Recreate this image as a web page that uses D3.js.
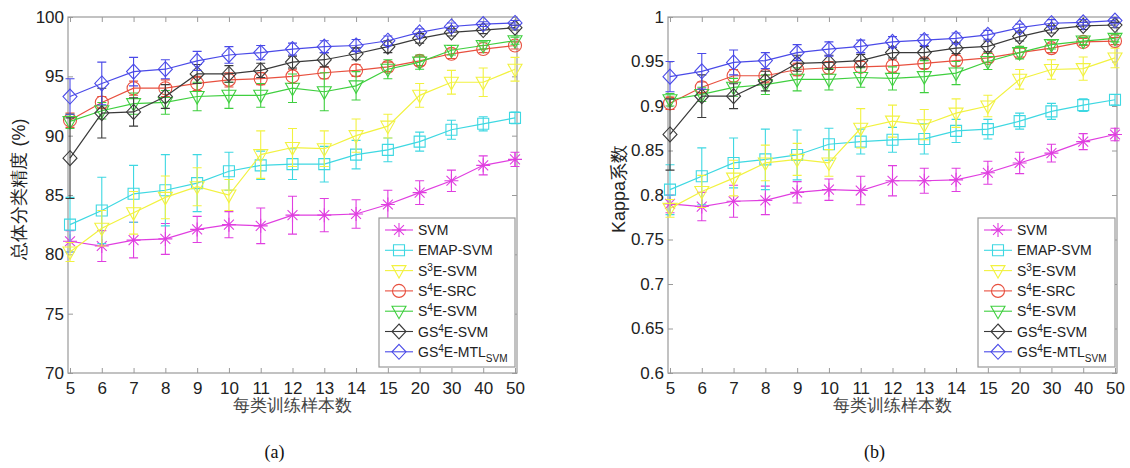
<!DOCTYPE html>
<html>
<head>
<meta charset="utf-8">
<script src="https://cdn.jsdelivr.net/npm/d3@7"></script>
<style>
  body { margin: 0; background: #fff; }
  svg text { font-family: "Liberation Sans", Arial, sans-serif; }
</style>
</head>
<body>
<div id="chart"></div>
<script>
// samples per class (categorical x axis)
const samples = ['5','6','7','8','9','10','11','12','13','14','15','20','30','40','50'];

const methods = ['SVM', 'EMAP-SVM', 'S3E-SVM', 'S4E-SRC', 'S4E-SVM', 'GS4E-SVM', 'GS4E-MTL'];

// (a) overall accuracy, %
const oaSVM   = [81.1, 80.7, 81.2, 81.3, 82.1, 82.5, 82.4, 83.3, 83.3, 83.4, 84.2, 85.2, 86.2, 87.5, 88.0];
const oaEMAP  = [82.5, 83.7, 85.1, 85.4, 86.0, 87.0, 87.5, 87.6, 87.6, 88.4, 88.8, 89.5, 90.5, 91.0, 91.5];
const oaS3E   = [80.2, 82.2, 83.5, 84.8, 85.7, 85.0, 88.4, 89.0, 88.9, 90.0, 90.8, 93.4, 94.5, 94.5, 95.6];
const oaS4SRC = [91.3, 92.8, 94.0, 94.0, 94.4, 94.7, 94.8, 95.0, 95.3, 95.5, 95.8, 96.3, 96.9, 97.3, 97.6];
const oaS4SVM = [91.2, 92.1, 92.7, 92.8, 93.3, 93.4, 93.4, 94.0, 93.7, 94.2, 95.6, 96.2, 97.2, 97.6, 98.0];
const oaGS4   = [88.1, 91.9, 92.0, 93.3, 95.2, 95.2, 95.5, 96.2, 96.4, 96.9, 97.5, 98.2, 98.7, 98.9, 99.1];
const oaMTL   = [93.3, 94.4, 95.4, 95.6, 96.3, 96.8, 97.0, 97.3, 97.5, 97.6, 98.0, 98.7, 99.2, 99.4, 99.5];

const oaSVMErr   = [0.9, 1.3, 1.5, 1.3, 1.1, 1.1, 1.5, 1.6, 1.4, 1.2, 1.2, 1.0, 0.9, 0.8, 0.6];
const oaEMAPErr  = [2.3, 2.8, 2.4, 3.0, 2.4, 1.6, 1.2, 1.3, 1.5, 1.2, 1.0, 0.8, 0.8, 0.6, 0.5];
const oaS3EErr   = [0.8, 1.5, 1.8, 1.8, 1.6, 1.3, 2.0, 1.6, 1.5, 1.4, 1.0, 1.0, 1.0, 1.2, 1.0];
const oaS4SRCErr = [0.6, 0.5, 0.6, 0.7, 0.6, 0.6, 0.5, 0.6, 0.5, 0.5, 0.4, 0.4, 0.4, 0.3, 0.3];
const oaS4SVMErr = [0.6, 0.7, 0.9, 1.0, 1.2, 1.1, 1.0, 1.2, 1.6, 1.2, 0.8, 0.6, 0.4, 0.3, 0.3];
const oaGS4Err   = [3.4, 2.1, 1.2, 1.0, 0.8, 0.7, 0.6, 0.5, 0.6, 0.5, 0.5, 0.4, 0.3, 0.3, 0.2];
const oaMTLErr   = [1.5, 1.8, 1.2, 0.8, 0.8, 0.7, 0.6, 0.5, 0.5, 0.5, 0.4, 0.3, 0.3, 0.2, 0.2];

// (b) kappa coefficient
const kSVM   = [0.790, 0.787, 0.793, 0.794, 0.803, 0.806, 0.805, 0.816, 0.816, 0.817, 0.825, 0.836, 0.847, 0.860, 0.868];
const kEMAP  = [0.806, 0.821, 0.836, 0.840, 0.845, 0.857, 0.860, 0.862, 0.863, 0.872, 0.874, 0.883, 0.894, 0.901, 0.907];
const kS3E   = [0.785, 0.804, 0.819, 0.836, 0.840, 0.836, 0.875, 0.883, 0.879, 0.892, 0.900, 0.930, 0.941, 0.942, 0.954];
const kS4SRC = [0.903, 0.921, 0.934, 0.934, 0.941, 0.943, 0.944, 0.945, 0.948, 0.951, 0.954, 0.960, 0.965, 0.972, 0.973];
const kS4SVM = [0.907, 0.913, 0.921, 0.924, 0.930, 0.930, 0.932, 0.931, 0.933, 0.937, 0.950, 0.960, 0.969, 0.973, 0.976];
const kGS4   = [0.868, 0.911, 0.911, 0.928, 0.948, 0.949, 0.951, 0.960, 0.960, 0.965, 0.967, 0.978, 0.986, 0.990, 0.991];
const kMTL   = [0.933, 0.939, 0.949, 0.951, 0.960, 0.964, 0.967, 0.972, 0.974, 0.976, 0.980, 0.988, 0.993, 0.994, 0.996];

const kSVMErr   = [0.010, 0.016, 0.018, 0.016, 0.012, 0.012, 0.016, 0.017, 0.014, 0.013, 0.013, 0.012, 0.010, 0.009, 0.007];
const kEMAPErr  = [0.028, 0.032, 0.028, 0.034, 0.028, 0.018, 0.014, 0.014, 0.017, 0.013, 0.011, 0.009, 0.009, 0.007, 0.006];
const kS3EErr   = [0.010, 0.018, 0.020, 0.020, 0.018, 0.015, 0.022, 0.018, 0.017, 0.016, 0.012, 0.011, 0.011, 0.013, 0.011];
const kS4SRCErr = [0.007, 0.006, 0.007, 0.008, 0.007, 0.007, 0.006, 0.007, 0.006, 0.006, 0.005, 0.005, 0.005, 0.004, 0.004];
const kS4SVMErr = [0.007, 0.008, 0.010, 0.011, 0.013, 0.012, 0.011, 0.013, 0.018, 0.013, 0.009, 0.007, 0.005, 0.004, 0.004];
const kGS4Err   = [0.040, 0.024, 0.014, 0.011, 0.009, 0.008, 0.007, 0.006, 0.007, 0.006, 0.006, 0.005, 0.004, 0.004, 0.003];
const kMTLErr   = [0.017, 0.020, 0.014, 0.009, 0.009, 0.008, 0.007, 0.006, 0.006, 0.006, 0.005, 0.004, 0.004, 0.003, 0.003];

const yTicksA = [70, 75, 80, 85, 90, 95, 100];
const yTicksB = [0.6, 0.65, 0.7, 0.75, 0.8, 0.85, 0.9, 0.95, 1];

// styling per method
const colors  = ['#e03ee0', '#3ed8e2', '#f2f240', '#e8503f', '#3fcf3f', '#3a3a3a', '#4a4ae8'];
const markers = ['star', 'square', 'tri', 'circle', 'tri', 'diamond', 'diamond'];

const width = 1130, height = 468;
const svg = d3.select('#chart').append('svg')
  .attr('width', width)
  .attr('height', height);

function markerPath(type) {
  const p = d3.path();
  if (type === 'diamond') {
    p.moveTo(0, -7.5); p.lineTo(7, 0); p.lineTo(0, 7.5); p.lineTo(-7, 0); p.closePath();
  } else if (type === 'square') {
    p.rect(-5.5, -5.5, 11, 11);
  } else if (type === 'tri') {
    p.moveTo(-7, -5); p.lineTo(7, -5); p.lineTo(0, 7.5); p.closePath();
  } else if (type === 'circle') {
    p.arc(0, 0, 6.5, 0, Math.PI * 2);
  } else if (type === 'star') {
    const r = 7;
    for (let k = 0; k < 4; k++) {
      const a = k * Math.PI / 4;
      p.moveTo(-r * Math.cos(a), -r * Math.sin(a));
      p.lineTo(r * Math.cos(a), r * Math.sin(a));
    }
  }
  return p.toString();
}

function legendLabel(text, i) {
  // write superscripts/subscripts with tspans
  const parts = {
    0: [['SVM']],
    1: [['EMAP-SVM']],
    2: [['S'], ['3', 'sup'], ['E-SVM']],
    3: [['S'], ['4', 'sup'], ['E-SRC']],
    4: [['S'], ['4', 'sup'], ['E-SVM']],
    5: [['GS'], ['4', 'sup'], ['E-SVM']],
    6: [['GS'], ['4', 'sup'], ['E-MTL'], ['SVM', 'sub']]
  }[i];
  parts.forEach(([t, k], j) => {
    const ts = text.append('tspan').text(t);
    if (k === 'sup') ts.attr('dy', -5).attr('font-size', 10);
    else if (k === 'sub') ts.attr('dy', 5).attr('font-size', 10);
    else if (j > 0) ts.attr('dy', 5).attr('font-size', 14);
  });
}

function drawPanel(cfg) {
  const { left, right, top, bottom, domain, ticks, fmt, values, errors, ylabel, tag, legendX } = cfg;

  const x = d3.scalePoint().domain(samples).range([left + 2, right - 2]);
  const y = d3.scaleLinear().domain(domain).range([bottom, top]);

  const g = svg.append('g');

  // frame
  g.append('rect')
    .attr('x', left).attr('y', top)
    .attr('width', right - left).attr('height', bottom - top)
    .attr('fill', 'none').attr('stroke', '#9a9a9a').attr('stroke-width', 1.2);

  // axes, ticks inside
  const xAxis = g.append('g').attr('transform', `translate(0,${bottom})`)
    .call(d3.axisBottom(x).tickSizeInner(-5).tickSizeOuter(0).tickPadding(9));
  const xTop = g.append('g').attr('transform', `translate(0,${top})`)
    .call(d3.axisTop(x).tickSizeInner(-5).tickSizeOuter(0).tickFormat(''));
  const yAxis = g.append('g').attr('transform', `translate(${left},0)`)
    .call(d3.axisLeft(y).tickValues(ticks).tickFormat(fmt).tickSizeInner(-5).tickSizeOuter(0).tickPadding(4));
  const yRight = g.append('g').attr('transform', `translate(${right},0)`)
    .call(d3.axisRight(y).tickValues(ticks).tickSizeInner(-5).tickSizeOuter(0).tickFormat(''));

  [xAxis, xTop, yAxis, yRight].forEach(a => {
    a.select('.domain').remove();
    a.selectAll('.tick line').attr('stroke', '#9a9a9a');
  });
  xAxis.selectAll('text').attr('font-size', 17).attr('fill', '#222');
  yAxis.selectAll('text').attr('font-size', 17).attr('fill', '#222');

  // series: error bars, line, markers
  values.forEach((vals, i) => {
    const col = colors[i];
    const sg = g.append('g');
    const errs = errors[i];
    const cap = 4.5;

    sg.selectAll('path.err')
      .data(vals.map((v, j) => ({ s: samples[j], v, e: errs[j] })))
      .enter().append('path')
      .attr('class', 'err')
      .attr('d', d => {
        const cx = x(d.s), y1 = y(d.v - d.e), y2 = y(d.v + d.e);
        return `M${cx},${y1}V${y2}M${cx - cap},${y1}H${cx + cap}M${cx - cap},${y2}H${cx + cap}`;
      })
      .attr('fill', 'none').attr('stroke', col).attr('stroke-width', 1.1);

    sg.append('path')
      .datum(vals)
      .attr('d', d3.line().x((d, j) => x(samples[j])).y(d => y(d)))
      .attr('fill', 'none').attr('stroke', col).attr('stroke-width', 1.2);

    sg.selectAll('path.mk')
      .data(vals)
      .enter().append('path')
      .attr('class', 'mk')
      .attr('transform', (d, j) => `translate(${x(samples[j])},${y(d)})`)
      .attr('d', markerPath(markers[i]))
      .attr('fill', 'none').attr('stroke', col).attr('stroke-width', 1.1);
  });

  // legend
  const lg = g.append('g');
  const lx = legendX, ly = 218, lw = right - 2 - legendX, lh = 149;
  lg.append('rect').attr('x', lx).attr('y', ly).attr('width', lw).attr('height', lh)
    .attr('fill', '#fff').attr('stroke', '#9a9a9a').attr('stroke-width', 1.2);
  methods.forEach((m, i) => {
    const yy = ly + 12 + i * 20.3;
    lg.append('line').attr('x1', lx + 6).attr('x2', lx + 34).attr('y1', yy).attr('y2', yy)
      .attr('stroke', colors[i]).attr('stroke-width', 1.1);
    lg.append('path').attr('transform', `translate(${lx + 20},${yy})`)
      .attr('d', markerPath(markers[i]))
      .attr('fill', 'none').attr('stroke', colors[i]).attr('stroke-width', 1.1);
    const t = lg.append('text').attr('x', lx + 39).attr('y', yy + 5)
      .attr('font-size', 14).attr('fill', '#222');
    legendLabel(t, i);
  });

  // axis titles
  g.append('text')
    .attr('x', (left + right) / 2).attr('y', 411)
    .attr('text-anchor', 'middle').attr('font-size', 17).attr('fill', '#444')
    .attr('font-family', '"Noto Sans CJK SC", sans-serif')
    .text('每类训练样本数');
  g.append('text')
    .attr('transform', `translate(${left - 43},${(top + bottom) / 2 - 6}) rotate(-90)`)
    .attr('text-anchor', 'middle').attr('font-size', 18).attr('fill', '#222')
    .attr('font-family', '"Liberation Sans", "Noto Sans CJK SC", sans-serif')
    .text(ylabel);
  g.append('text')
    .attr('x', (left + right) / 2 - 18).attr('y', 458)
    .attr('text-anchor', 'middle').attr('font-size', 18).attr('fill', '#111')
    .style('font-family', '"Liberation Serif", "Times New Roman", serif')
    .text(tag);
}

drawPanel({
  left: 68, right: 517, top: 17, bottom: 373,
  domain: [70, 100], ticks: yTicksA, fmt: d3.format('d'),
  values: [oaSVM, oaEMAP, oaS3E, oaS4SRC, oaS4SVM, oaGS4, oaMTL],
  errors: [oaSVMErr, oaEMAPErr, oaS3EErr, oaS4SRCErr, oaS4SVMErr, oaGS4Err, oaMTLErr],
  ylabel: '总体分类精度 (%)', tag: '(a)', legendX: 379
});

drawPanel({
  left: 668, right: 1117, top: 17, bottom: 373,
  domain: [0.6, 1], ticks: yTicksB, fmt: d => String(+d.toFixed(2)),
  values: [kSVM, kEMAP, kS3E, kS4SRC, kS4SVM, kGS4, kMTL],
  errors: [kSVMErr, kEMAPErr, kS3EErr, kS4SRCErr, kS4SVMErr, kGS4Err, kMTLErr],
  ylabel: 'Kappa系数', tag: '(b)', legendX: 978
});
</script>
</body>
</html>
